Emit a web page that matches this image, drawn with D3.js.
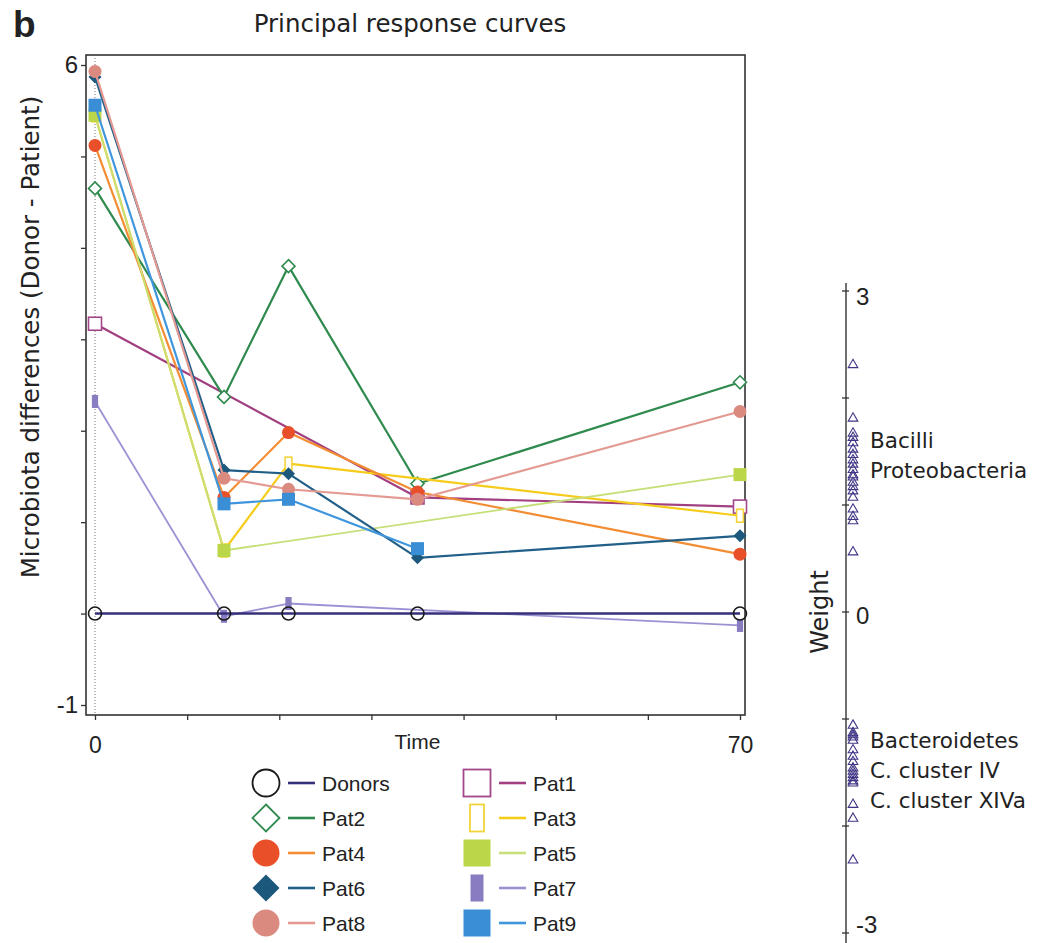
<!DOCTYPE html>
<html>
<head>
<meta charset="utf-8">
<script src="https://cdn.jsdelivr.net/npm/d3@7"></script>
<style>
body { margin: 0; background: #fff; }
text { font-family: "Liberation Sans", Arial, sans-serif; fill: #222; }
.wide { font-family: "DejaVu Sans", sans-serif; }
</style>
</head>
<body>
<div id="chart"></div>
<script>

const WIDTH = 1049;
const HEIGHT = 943;

// Time points (x) and response values per series.
const TIMES = [0, 14, 21, 35, 70];
const SERIES = ["Donors", "Pat1", "Pat2", "Pat3", "Pat4", "Pat5", "Pat6", "Pat7", "Pat8", "Pat9"];
const DONORS = [0, 0, 0, 0, 0];
const PAT1 = [3.17, null, null, 1.27, 1.17];
const PAT2 = [4.65, 2.37, 3.80, 1.42, 2.53];
const PAT3 = [5.45, 0.69, 1.64, null, 1.07];
const PAT4 = [5.12, 1.27, 1.98, 1.33, 0.65];
const PAT5 = [5.45, 0.69, null, null, 1.52];
const PAT6 = [5.87, 1.57, 1.53, 0.61, 0.85];
const PAT7 = [2.32, -0.03, 0.11, null, -0.13];
const PAT8 = [5.93, 1.48, 1.36, 1.25, 2.21];
const PAT9 = [5.56, 1.20, 1.25, 0.71, null];
const VALUES = [DONORS, PAT1, PAT2, PAT3, PAT4, PAT5, PAT6, PAT7, PAT8, PAT9];

// Axis ticks.
const Y_TICKS = [-1, 0, 1, 2, 3, 4, 5, 6];
const Y_TICK_LABELS = [-1, 6];
const X_TICKS = [0, 10, 20, 30, 40, 50, 60, 70];
const X_TICK_LABELS = [0, 70];
const W_TICKS = [-3, -2, -1, 0, 1, 2, 3];
const W_TICK_LABELS = [-3, 0, 3];

// Species weights.
const WEIGHTS = [2.31, 1.81, 1.67, 1.63, 1.58, 1.52, 1.47, 1.42, 1.38, 1.33, 1.28, 1.26,
                 1.21, 1.17, 1.13, 1.07, 0.96, 0.89, 0.85, 0.56,
                 -1.06, -1.13, -1.15, -1.17, -1.20, -1.29, -1.35, -1.40, -1.46, -1.49,
                 -1.52, -1.55, -1.58, -1.60, -1.80, -1.93, -2.32];
const WEIGHT_LABELS_TOP = ["Bacilli", "Proteobacteria"];
const WEIGHT_LABELS_BOTTOM = ["Bacteroidetes", "C. cluster IV", "C. cluster XIVa"];

// Styles: marker shape, marker colour, filled, line colour, line width.
const STYLE = {
    "Donors": {shape: "circle",  mark: "#1a1a1a", fill: false, line: "#34307a", lw: 2.6},
    "Pat1":   {shape: "square",  mark: "#a4478a", fill: false, line: "#a23f80", lw: 2.2},
    "Pat2":   {shape: "diamond", mark: "#2f8a4e", fill: false, line: "#2f8a4e", lw: 2.2},
    "Pat3":   {shape: "tall",    mark: "#f2d43a", fill: false, line: "#f5cc1c", lw: 2.2},
    "Pat4":   {shape: "circle",  mark: "#e9502a", fill: true,  line: "#f28d34", lw: 2.2},
    "Pat5":   {shape: "square",  mark: "#bcd64a", fill: true,  line: "#c6df78", lw: 1.8},
    "Pat6":   {shape: "diamond", mark: "#1b587c", fill: true,  line: "#215f89", lw: 2.2},
    "Pat7":   {shape: "thin",    mark: "#8a7cc0", fill: true,  line: "#9d91d4", lw: 1.8},
    "Pat8":   {shape: "circle",  mark: "#db8a80", fill: true,  line: "#e49a92", lw: 2.2},
    "Pat9":   {shape: "square",  mark: "#3a8ed6", fill: true,  line: "#3f96dc", lw: 2.2}
};

// Plot frame.
const FRAME = {left: 86, right: 745, top: 55, bottom: 715};


function addMarker(g, st, s, sw) {
    var fill = st.fill ? st.mark : (st.shape == "circle" && st.mark == "#1a1a1a" ? "none" : "white");
    var stroke = st.mark;
    if (st.shape == "circle") {
        g.append("circle").attr("r", s / 2);
    } else if (st.shape == "diamond") {
        var h = s / 2;
        g.append("polygon").attr("points", [[0, -h], [h, 0], [0, h], [-h, 0]].join(" "));
    } else if (st.shape == "square") {
        g.append("rect").attr("x", -s / 2).attr("y", -s / 2).attr("width", s).attr("height", s);
    } else if (st.shape == "tall") {
        g.append("rect").attr("x", -s * 0.26).attr("y", -s / 2).attr("width", s * 0.52).attr("height", s);
    } else {
        g.append("rect").attr("x", -s * 0.24).attr("y", -s / 2).attr("width", s * 0.48).attr("height", s);
    }
    g.selectAll("*")
     .attr("fill", fill)
     .attr("stroke", stroke)
     .attr("stroke-width", st.fill ? 0 : sw);
}


window.onload = function() {

    var svg = d3.select("#chart").append("svg")
                .attr("width", WIDTH)
                .attr("height", HEIGHT);

    var x = d3.scaleLinear().domain([0, 70]).range([95, 740]);
    var y = d3.scaleLinear().domain([-1, 6]).range([705, 65]);
    var w = d3.scaleLinear().domain([-3, 3]).range([933, 291]);

    // Panel letter and title.
    svg.append("text")
       .attr("x", 13).attr("y", 37)
       .attr("font-size", "37px")
       .attr("font-weight", "bold")
       .attr("fill", "#111")
       .text("b");

    svg.append("text")
       .attr("class", "wide")
       .attr("x", 410).attr("y", 32)
       .attr("text-anchor", "middle")
       .attr("font-size", "24.5px")
       .text("Principal response curves");

    // Frame.
    svg.append("rect")
       .attr("x", FRAME.left).attr("y", FRAME.top)
       .attr("width", FRAME.right - FRAME.left)
       .attr("height", FRAME.bottom - FRAME.top)
       .attr("fill", "none")
       .attr("stroke", "#333")
       .attr("stroke-width", 1.6);

    // Dotted line at time 0.
    svg.append("line")
       .attr("x1", x(0)).attr("x2", x(0))
       .attr("y1", FRAME.top).attr("y2", FRAME.bottom)
       .attr("stroke", "#666")
       .attr("stroke-width", 0.9)
       .attr("stroke-dasharray", "1,2");

    // Y axis.
    var yAxis = svg.append("g")
                   .attr("transform", "translate(" + FRAME.left + ",0)")
                   .call(d3.axisLeft(y).tickValues(Y_TICKS).tickSize(5)
                           .tickFormat(function (d) { return Y_TICK_LABELS.indexOf(d) >= 0 ? d : ""; }));
    yAxis.select(".domain").remove();
    yAxis.selectAll(".tick line").attr("stroke", "#333").attr("stroke-width", 1.3);
    yAxis.selectAll(".tick text")
         .attr("font-size", "24px")
         .attr("font-family", "Liberation Sans, Arial, sans-serif")
         .attr("fill", "#222")
         .attr("x", -8);

    // X axis.
    var xAxis = svg.append("g")
                   .attr("transform", "translate(0," + FRAME.bottom + ")")
                   .call(d3.axisBottom(x).tickValues(X_TICKS).tickSize(5)
                           .tickFormat(function (d) { return X_TICK_LABELS.indexOf(d) >= 0 ? d : ""; }));
    xAxis.select(".domain").remove();
    xAxis.selectAll(".tick line").attr("stroke", "#333").attr("stroke-width", 1.3);
    xAxis.selectAll(".tick text")
         .attr("font-size", "23px")
         .attr("font-family", "Liberation Sans, Arial, sans-serif")
         .attr("fill", "#222")
         .attr("y", 22);

    svg.append("text")
       .attr("x", x(35)).attr("y", 749)
       .attr("text-anchor", "middle")
       .attr("font-size", "21px")
       .text("Time");

    svg.append("text")
       .attr("class", "wide")
       .attr("transform", "translate(39,337) rotate(-90)")
       .attr("text-anchor", "middle")
       .attr("font-size", "24.5px")
       .text("Microbiota differences (Donor - Patient)");

    // Curves.
    var line = d3.line()
                 .x(function (d) { return x(d.t); })
                 .y(function (d) { return y(d.v); });

    var order = SERIES.slice(1).concat(["Donors"]);
    var curves = svg.append("g");
    order.forEach(function (name) {
        var st = STYLE[name];
        var pts = TIMES.map(function (t, i) { return {t: t, v: VALUES[SERIES.indexOf(name)][i]}; })
                       .filter(function (d) { return d.v != null; });

        var grp = curves.append("g").attr("class", "series");
        grp.append("path")
           .datum(pts)
           .attr("d", line)
           .attr("fill", "none")
           .attr("stroke", st.line)
           .attr("stroke-width", st.lw)
           .attr("stroke-linejoin", "round");

        grp.selectAll("g.pt")
           .data(pts)
           .enter()
           .append("g")
           .attr("class", "pt")
           .attr("transform", function (d) { return "translate(" + x(d.t) + "," + y(d.v) + ")"; })
           .each(function () { addMarker(d3.select(this), st, 13, 1.6); });
    });

    // Legend, two columns filled row by row.
    var legend = svg.append("g");
    SERIES.forEach(function (name, i) {
        var col = i % 2;
        var row = Math.floor(i / 2);
        var cx = col == 0 ? 266 : 477;
        var cy = 783 + row * 35;
        var st = STYLE[name];

        var m = legend.append("g").attr("transform", "translate(" + cx + "," + cy + ")");
        addMarker(m, st, 27, 1.8);

        legend.append("line")
              .attr("x1", cx + 22).attr("x2", cx + 49)
              .attr("y1", cy).attr("y2", cy)
              .attr("stroke", st.line)
              .attr("stroke-width", 2.6);

        legend.append("text")
              .attr("x", cx + 56).attr("y", cy + 7.5)
              .attr("font-size", "21px")
              .text(name);
    });

    // Weight axis.
    var wx = 846;
    svg.append("line")
       .attr("x1", wx).attr("x2", wx)
       .attr("y1", 283).attr("y2", HEIGHT)
       .attr("stroke", "#333")
       .attr("stroke-width", 1.4);

    svg.selectAll("line.wtick")
       .data(W_TICKS)
       .enter()
       .append("line")
       .attr("class", "wtick")
       .attr("x1", wx - 4).attr("x2", wx + 3)
       .attr("y1", function (d) { return w(d); })
       .attr("y2", function (d) { return w(d); })
       .attr("stroke", "#333")
       .attr("stroke-width", 1.3);

    var wLabelShift = {"3": 14, "0": 12, "-3": 0};
    svg.selectAll("text.wlab")
       .data(W_TICK_LABELS)
       .enter()
       .append("text")
       .attr("class", "wlab")
       .attr("x", wx + 10)
       .attr("y", function (d) { return w(d) + wLabelShift[d]; })
       .attr("font-size", "24px")
       .text(function (d) { return d; });

    svg.append("text")
       .attr("class", "wide")
       .attr("transform", "translate(828,612) rotate(-90)")
       .attr("text-anchor", "middle")
       .attr("font-size", "24px")
       .text("Weight");

    svg.selectAll("path.tri")
       .data(WEIGHTS)
       .enter()
       .append("path")
       .attr("class", "tri")
       .attr("d", d3.symbol().type(d3.symbolTriangle).size(40))
       .attr("transform", function (d) { return "translate(" + (wx + 7) + "," + w(d) + ")"; })
       .attr("fill", "none")
       .attr("stroke", "#3f3585")
       .attr("stroke-width", 1.1);

    svg.selectAll("text.wtop")
       .data(WEIGHT_LABELS_TOP)
       .enter()
       .append("text")
       .attr("class", "wide")
       .attr("x", 870)
       .attr("y", function (d, i) { return 448 + i * 30; })
       .attr("font-size", "21.5px")
       .text(function (d) { return d; });

    svg.selectAll("text.wbot")
       .data(WEIGHT_LABELS_BOTTOM)
       .enter()
       .append("text")
       .attr("class", "wide")
       .attr("x", 870)
       .attr("y", function (d, i) { return 748 + i * 30; })
       .attr("font-size", "21.5px")
       .text(function (d) { return d; });
};

</script>
</body>
</html>
